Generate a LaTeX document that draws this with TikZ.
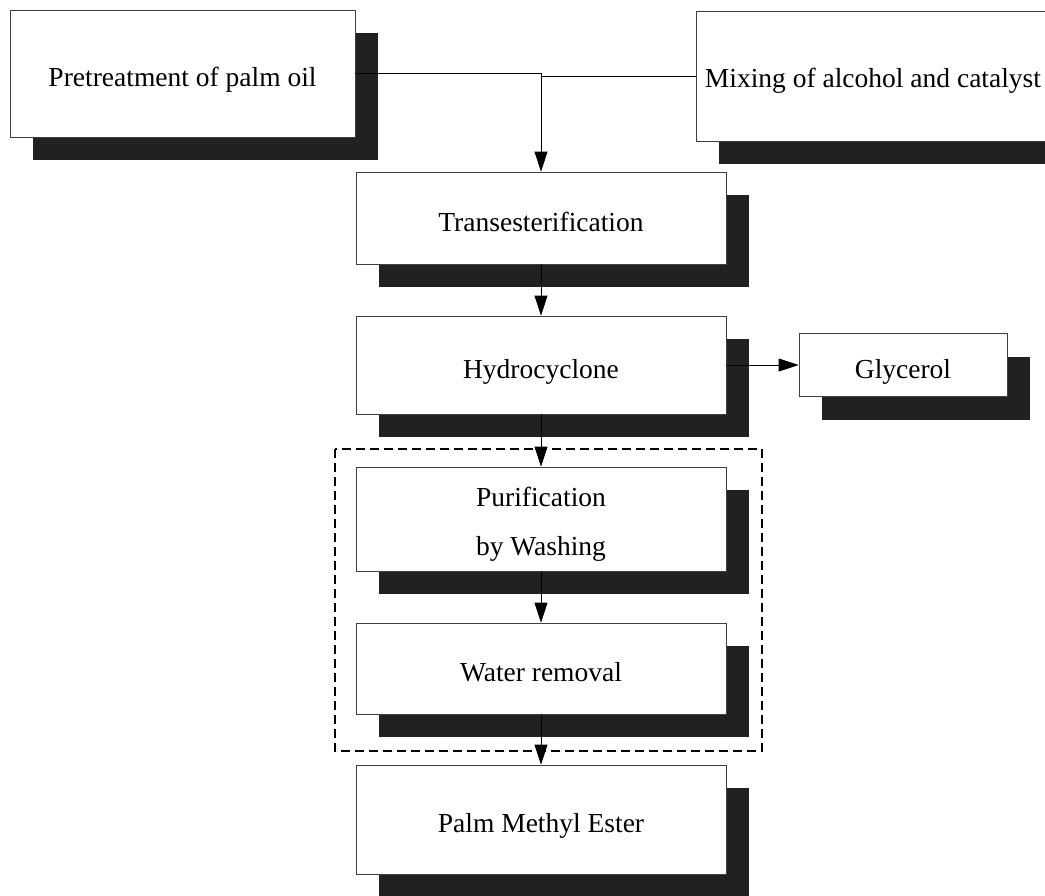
\documentclass[tikz,border=0pt]{standalone}
\usepackage{fontspec}
\setmainfont{Liberation Serif}
\usetikzlibrary{arrows.meta,shadows}
\tikzstyle{stage}=[rectangle, draw=black!75, fill=white
,line width=0.8pt
,minimum width=370pt
,inner sep=0pt, align=center
,text height=26pt, text depth=0pt
,font=\fontsize{27.5}{49}\selectfont
,drop shadow={shadow xshift=23pt, shadow yshift=-23pt, fill=black!87, opacity=1}
]
\tikzstyle{edge} = [draw, line width=0.8pt, -{Triangle[length=20pt,width=13pt]}]
\tikzstyle{group} = [draw, line width=1.5pt, dash pattern=on 9pt off 5pt]

\begin{document}
\begin{tikzpicture}[x=1pt,y=-1pt]
    \clip (0,0) rectangle (1045,895);
    % Dashed frame round the purification steps
    \draw[group] (335,449) rectangle (762,751);
    % First we draw the stages of the main column
    \foreach \pos/\name/\h/\txt in {{(541,218)/trans/92/Transesterification},
        {(541,365)/hydro/98/Hydrocyclone}, {(541,668.5)/water/91/Water removal},
        {(541,819.5)/pme/109/Palm Methyl Ester}}
        \node[stage, minimum height=\h] (\name) at \pos {\txt};
    \node[stage, minimum height=104, text height=72pt] (puri) at (541,519) {Purification\\by Washing};
    % Feed stages and by-product
    \node[stage, minimum width=345, minimum height=127] (pre) at (182.5,73.5) {Pretreatment of palm oil};
    \node[stage, minimum width=354, minimum height=130, text height=22pt] (mix) at (873,76) {Mixing of alcohol and catalyst};
    \node[stage, minimum width=208, minimum height=63] (glyc) at (903,365) {Glycerol};
    % Connect stages with edges
    \path[edge] (pre.east) -| (trans.north);
    \draw[line width=0.8pt] (mix.west) -- (mix.west -| trans.north);
    \foreach \source/ \dest in {trans/hydro, hydro/puri, puri/water, water/pme, hydro/glyc}
        \path[edge] (\source) -- (\dest) ;
\end{tikzpicture}
\end{document}
